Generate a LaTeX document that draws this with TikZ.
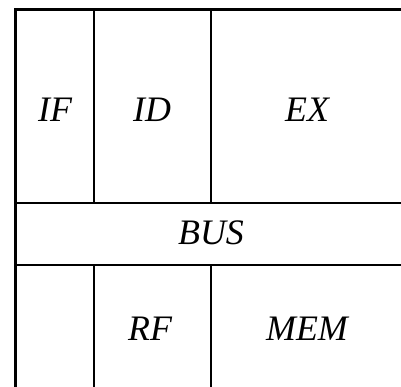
\documentclass[tikz,border=0pt]{standalone}
\usepackage{fontspec}
\setmainfont{Liberation Serif}
\begin{document}
\begin{tikzpicture}[x=1bp,y=-1bp,
  thickline/.style={line width=3bp},
  thinline/.style={line width=1.8bp},
  lbl/.style={font=\fontsize{36}{40}\selectfont\itshape, inner sep=0pt}]
\useasboundingbox (0,0) rectangle (401,387);
% outer border
\draw[thickline] (15,387) -- (15,9.5) -- (401,9.5);
% bus band
\draw[thinline] (15,203) -- (401,203);
\draw[thinline] (15,265) -- (401,265);
% vertical dividers
\draw[thinline] (94,9.5) -- (94,203);
\draw[thinline] (211,9.5) -- (211,203);
\draw[thinline] (94,265) -- (94,387);
\draw[thinline] (211,265) -- (211,387);
% labels
\node[lbl] (if) at (55,110) {IF};
\node[lbl] (id) at (152,110) {ID};
\node[lbl] (ex) at (307,110) {EX};
\node[lbl] (bus) at (211,233) {BUS};
\node[lbl] (rf) at (150,329) {RF};
\node[lbl] (mem) at (307,329) {MEM};
\end{tikzpicture}
\end{document}
